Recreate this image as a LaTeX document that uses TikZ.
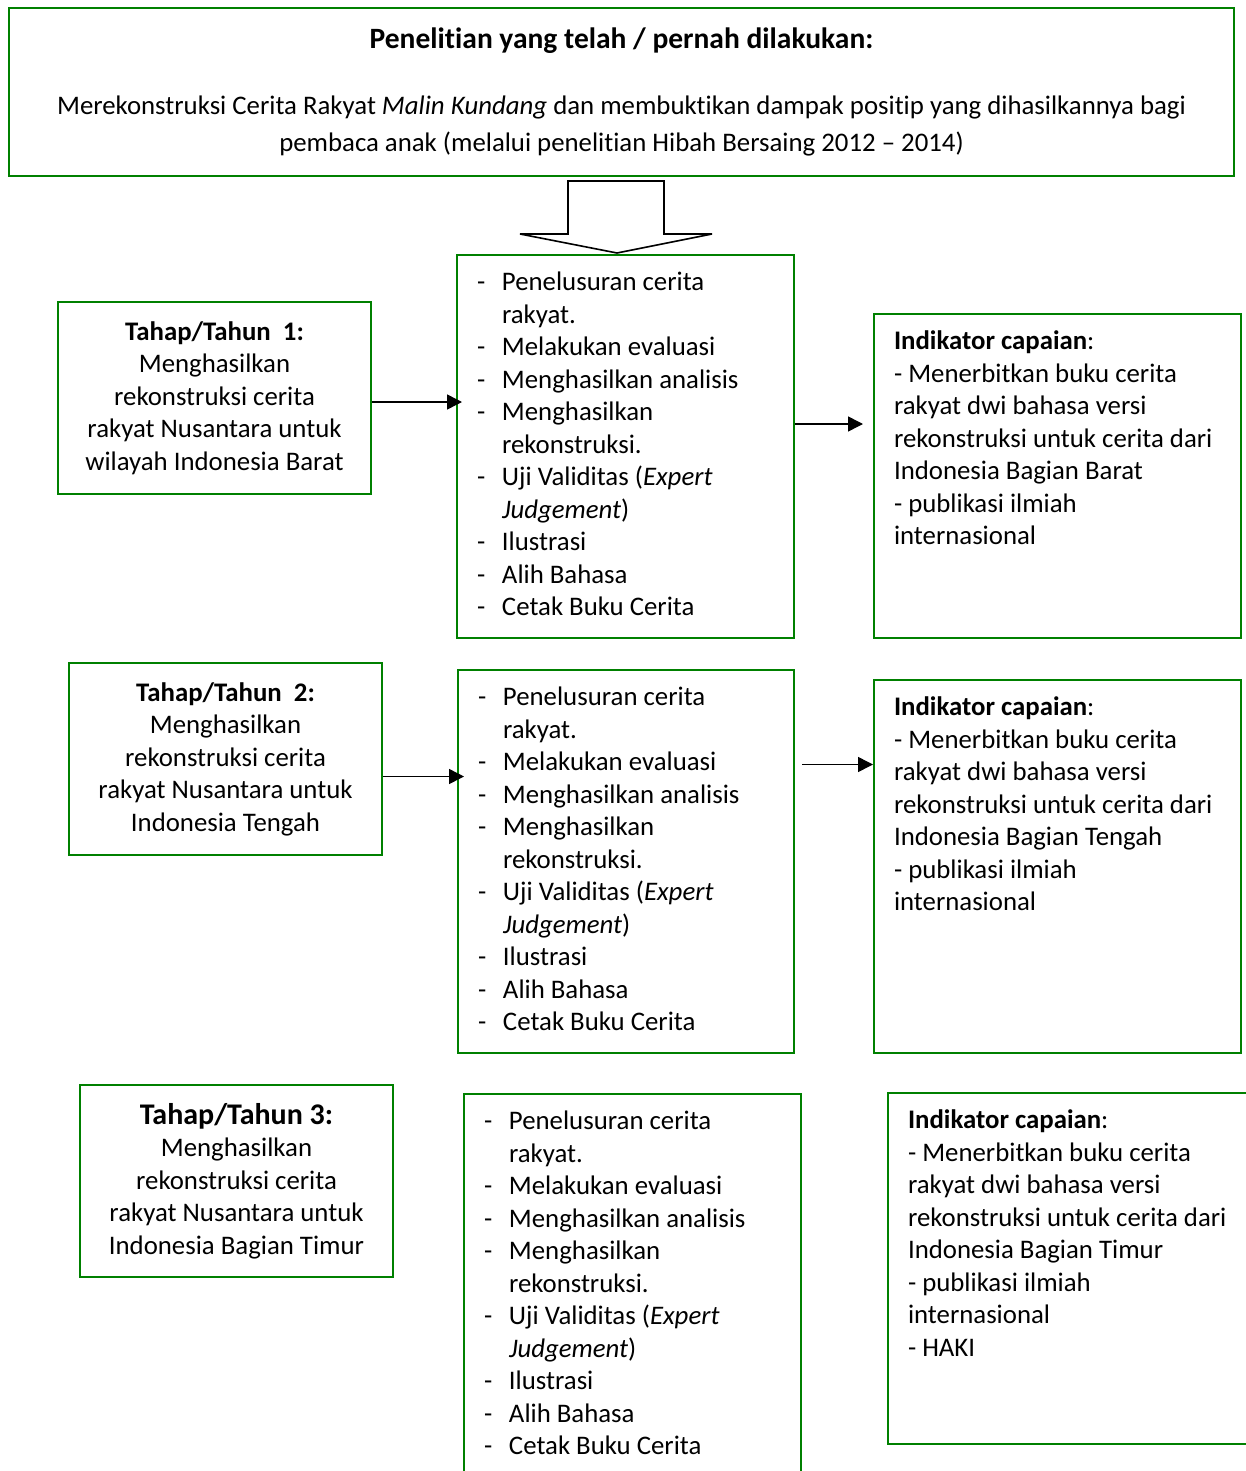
\documentclass[tikz,border=0pt]{standalone}
\usepackage{fontspec}
\setmainfont[Ligatures={TeX,NoCommon,NoContextual},Contextuals=NoAlternate]{Carlito}
\usetikzlibrary{arrows.meta,positioning}
\definecolor{rkGreen}{HTML}{008000}
\definecolor{rkInk}{HTML}{000000}

% top-aligned panel text: height, width, content
\newcommand{\rkpanel}[3]{\parbox[c][#1][t]{#2}{\raggedright\leftskip=20pt\relax\vspace*{13pt}#3}}
\newcommand{\rkitem}[1]{\par\hangindent=25pt\hangafter=1\noindent\strut\makebox[25pt][l]{-}#1\par}
\newcommand{\rksteps}{%
  \rkitem{Penelusuran cerita\newline rakyat.}%
  \rkitem{Melakukan evaluasi}%
  \rkitem{Menghasilkan analisis}%
  \rkitem{Menghasilkan\newline rekonstruksi.}%
  \rkitem{Uji Validitas (\textit{Expert}\newline\textit{Judgement})}%
  \rkitem{Ilustrasi}%
  \rkitem{Alih Bahasa}%
  \rkitem{Cetak Buku Cerita}}
\newcommand{\rkgoal}[1]{\strut\textbf{Indikator capaian}:\\- Menerbitkan buku cerita\\rakyat dwi bahasa versi\\rekonstruksi untuk cerita dari\\Indonesia Bagian #1\\- publikasi ilmiah\\internasional}

\begin{document}
\begin{tikzpicture}[x=1pt,y=-1pt,
  font=\fontsize{26.8}{32.5}\selectfont,text=rkInk,
  rkbox/.style={draw=rkGreen,line width=2pt,inner sep=0pt,anchor=north west},
  rkstage/.style={rkbox,align=center,minimum width=313pt,minimum height=192pt},
  rkarrow/.style={draw=rkInk,line width=1.5pt,-{Triangle[length=15pt,width=15pt]}},
  rkhollow/.style={draw=rkInk,line width=1.6pt,fill=white,line join=miter}]
  \fill[white] (0,0) rectangle (1246,1471);
  \useasboundingbox (0,0) rectangle (1246,1471);

  \node[rkbox,align=center,minimum width=1225pt,minimum height=168pt] (research) at (8,7)
    {{\fontsize{29.5}{32.5}\selectfont\textbf{Penelitian yang telah / pernah dilakukan:}}\\[33.5pt]
     Merekonstruksi Cerita Rakyat \textit{Malin Kundang} dan membuktikan dampak positip yang dihasilkannya bagi\\[4.5pt]
     pembaca anak (melalui penelitian Hibah Bersaing 2012 – 2014)};

  % stages on the left
  \node[rkstage] (stage1) at (57,301)
    {\textbf{Tahap/Tahun~~1:}\\Menghasilkan\\rekonstruksi cerita\\rakyat Nusantara untuk\\wilayah Indonesia Barat};
  \node[rkstage] (stage2) at (68,662)
    {\textbf{Tahap/Tahun~~2:}\\Menghasilkan\\rekonstruksi cerita\\rakyat Nusantara untuk\\Indonesia Tengah};
  \node[rkstage] (stage3) at (79,1084)
    {{\fontsize{30}{32.5}\selectfont\textbf{Tahap/Tahun 3:}}\\Menghasilkan\\rekonstruksi cerita\\rakyat Nusantara untuk\\Indonesia Bagian Timur};

  % activities in the middle
  \node[rkbox] (steps1) at (456,254) {\rkpanel{383pt}{337pt}{\rksteps}};
  \node[rkbox] (steps2) at (457,669) {\rkpanel{383pt}{336pt}{\rksteps}};
  \node[rkbox] (steps3) at (463,1093) {\rkpanel{400pt}{337pt}{\rksteps}};

  % targets on the right
  \node[rkbox] (goal1) at (873,313) {\rkpanel{324pt}{367pt}{\rkgoal{Barat}}};
  \node[rkbox] (goal2) at (873,679) {\rkpanel{373pt}{367pt}{\rkgoal{Tengah}}};
  \node[rkbox] (goal3) at (887,1092) {\rkpanel{351pt}{370pt}{\rkgoal{Timur}\\- HAKI}};

  \coordinate (hollowtip) at (617,253);
  \draw[rkhollow] (hollowtip) -- ++(95,-19) -- ++(-48,0) -- ++(0,-53) -- ++(-96,0)
    -- ++(0,53) -- ++(-48,0) -- cycle;

  \draw[rkarrow,shorten >=-6pt] ([yshift=-4pt]stage1.east) -- ([yshift=-4pt]stage1.east -| steps1.west);
  \draw[rkarrow,shorten >=10pt] ([yshift=22.5pt]steps1.east) -- ([yshift=22.5pt]steps1.east -| goal1.west);
  \draw[rkarrow,shorten >=-7pt] ([yshift=-17.5pt]stage2.east) -- ([yshift=-17.5pt]stage2.east -| steps2.west);
  \draw[rkarrow,shorten <=7pt] ([yshift=97pt]steps2.east) -- ([yshift=97pt]steps2.east -| goal2.west);
\end{tikzpicture}
\end{document}
